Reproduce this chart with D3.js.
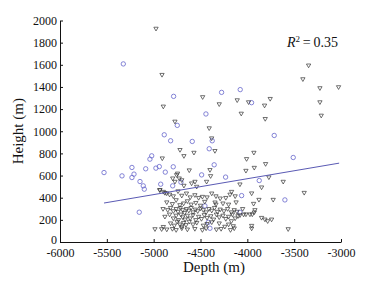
<!DOCTYPE html>
<html>
<head>
<meta charset="utf-8">
<script src="https://cdn.jsdelivr.net/npm/d3@7"></script>
<style>
    body { margin: 0; background: #fff; }
    text { font-family: "Liberation Serif", "Times New Roman", serif; fill: #111; }
</style>
</head>
<body>
<svg id="chart"></svg>
<script>
// Axis ticks
const xTicks = [-6000, -5500, -5000, -4500, -4000, -3500, -3000];
const yTicks = [0, 200, 400, 600, 800, 1000, 1200, 1400, 1600, 1800, 2000];

// Circle samples [depth, height]
const circlePoints = [
    [-5530, 627], [-5324, 1608], [-5338, 597], [-5232, 673], [-5232, 582], [-5210, 613],
    [-5146, 546], [-5111, 507], [-5100, 477], [-5154, 269], [-5085, 661], [-5040, 748],
    [-5021, 778], [-4976, 667], [-4940, 681], [-4925, 522], [-4887, 968], [-4876, 631],
    [-4819, 914], [-4797, 507], [-4791, 679], [-4787, 1315], [-4748, 1053], [-4709, 540],
    [-4588, 908], [-4488, 606], [-4453, 326], [-4442, 1156], [-4417, 178], [-4407, 842],
    [-4399, 124], [-4375, 914], [-4354, 697], [-4275, 1351], [-4232, 586], [-4079, 269],
    [-4076, 1376], [-4061, 419], [-3955, 1258], [-3873, 555], [-3713, 962], [-3599, 380],
    [-3510, 763]
];

// Triangle samples [depth, height]
const trianglePoints = [
    // scattered upper points
    [-4975, 1928], [-4911, 1511], [-4897, 1225], [-4773, 1089], [-4477, 1310], [-4407, 1029],
    [-4300, 1246], [-4108, 1282], [-3987, 1264], [-3816, 1234], [-3756, 1294], [-4065, 1161],
    [-3809, 1113], [-3346, 1596], [-3407, 1472], [-3225, 1391], [-3026, 1400], [-3225, 1264],
    [-3211, 1143], [-4381, 938], [-4719, 833], [-4570, 808], [-4677, 778], [-4908, 757],
    [-4346, 824], [-4008, 751], [-3930, 808], [-3805, 706], [-3926, 672], [-4620, 649],
    [-4399, 652], [-4015, 645], [-4392, 597], [-3770, 586], [-3617, 546], [-4595, 531],
    [-4541, 501], [-4435, 546], [-4559, 546], [-3848, 495], [-4168, 455], [-3393, 446],
    [-3954, 441], [-3876, 383], [-3724, 383], [-3933, 347], [-3919, 290], [-3926, 269],
    [-3972, 251], [-3947, 251], [-4015, 251], [-3848, 220], [-3812, 205], [-3783, 190],
    [-3741, 205], [-3954, 148], [-3954, 124], [-3564, 118], [-4079, 522], [-4079, 243],
    [-4040, 250],
    [-4755, 606], [-4727, 576], [-4797, 576], [-4773, 546], [-4745, 620], [-4700, 560],
    [-4677, 510], [-4933, 471], [-4897, 455], [-4861, 441],
    // dense band
    [-4935, 470], [-4880, 445], [-4830, 430], [-4790, 415], [-4740, 460], [-4700, 420],
    [-4650, 440], [-4610, 405], [-4560, 425], [-4520, 400], [-4480, 410], [-4430, 405],
    [-4380, 440], [-4335, 415], [-4290, 395], [-4230, 400], [-4185, 430], [-4130, 415],
    [-4860, 360], [-4800, 345], [-4760, 380], [-4720, 335], [-4680, 350], [-4640, 370],
    [-4600, 340], [-4550, 355], [-4500, 330], [-4455, 365], [-4345, 359], [-4335, 341],
    [-4260, 350], [-4200, 340], [-4120, 360],
    [-4900, 300], [-4850, 290], [-4820, 310], [-4790, 280], [-4760, 300], [-4740, 275],
    [-4715, 310], [-4690, 290], [-4670, 265], [-4650, 300], [-4625, 285], [-4600, 310],
    [-4580, 270], [-4555, 295], [-4530, 280], [-4500, 305], [-4470, 290], [-4440, 270],
    [-4410, 300], [-4380, 285], [-4350, 310], [-4320, 275], [-4290, 295], [-4250, 280],
    [-4210, 300], [-4170, 270], [-4140, 290], [-4110, 275], [-4050, 300],
    [-4880, 230], [-4830, 250], [-4790, 215], [-4760, 240], [-4735, 200], [-4710, 250],
    [-4690, 225], [-4665, 205], [-4640, 240], [-4610, 215], [-4580, 245], [-4550, 200],
    [-4520, 230], [-4490, 210], [-4460, 245], [-4430, 220], [-4390, 235], [-4360, 205],
    [-4330, 250], [-4300, 225], [-4260, 240], [-4230, 210], [-4200, 230], [-4160, 250],
    [-4130, 215], [-4100, 235],
    [-4820, 170], [-4780, 150], [-4750, 185], [-4720, 160], [-4700, 140], [-4680, 175],
    [-4655, 155], [-4620, 185], [-4580, 160], [-4540, 175], [-4470, 150], [-4430, 165],
    [-4380, 180], [-4300, 170], [-4240, 140], [-4200, 160], [-4170, 190], [-4150, 145],
    [-4986, 118], [-4915, 118], [-4897, 138], [-4860, 115], [-4800, 120], [-4760, 110],
    [-4700, 125], [-4640, 115], [-4560, 120], [-4480, 110], [-4440, 125], [-4330, 115],
    [-4280, 120], [-4180, 110], [-4140, 125]
];

// Fitted trend line end points
const trendDepth = [-5530, -3020];
const trendHeight = [352, 712];
const rSquared = "0.35";

const width = 377, height = 282;
const svg = d3.select('#chart').attr('width', width).attr('height', height);

const x = d3.scaleLinear().domain([-6000, -3000]).range([60, 341]);
const y = d3.scaleLinear().domain([0, 2000]).range([242, 20.5]);

// Axes (inward ticks, no box)
const xAxis = svg.append('g')
    .attr('transform', `translate(0,${y(0)})`)
    .call(d3.axisBottom(x).tickValues(xTicks).tickFormat(d => String(d))
        .tickSizeInner(-3).tickSizeOuter(0).tickPadding(6));
const yAxis = svg.append('g')
    .attr('transform', `translate(${x(-6000)},0)`)
    .call(d3.axisLeft(y).tickValues(yTicks).tickFormat(d => String(d))
        .tickSizeInner(-3).tickSizeOuter(0).tickPadding(3));

[xAxis, yAxis].forEach(g => {
    g.selectAll('path, line').attr('stroke', '#111').attr('stroke-width', 1);
    g.selectAll('text').attr('font-size', 12)
        .attr('font-family', '"Liberation Serif", "Times New Roman", serif')
        .attr('fill', '#111');
});
// the "0" label sits a little higher, as in the original
yAxis.selectAll('.tick text').filter(d => d === 0).attr('dy', '0.1em');

// Axis titles
svg.append('text')
    .attr('x', 214).attr('y', 272)
    .attr('text-anchor', 'middle').attr('font-size', 15)
    .text('Depth (m)');
svg.append('text')
    .attr('transform', `translate(23,${(y(0) + y(2000)) / 2}) rotate(-90)`)
    .attr('text-anchor', 'middle').attr('font-size', 15)
    .text('Height (m)');

// Circles
svg.append('g').selectAll('circle')
    .data(circlePoints)
    .enter().append('circle')
    .attr('cx', d => x(d[0]))
    .attr('cy', d => y(d[1]))
    .attr('r', 2.2)
    .attr('fill', 'none')
    .attr('stroke', '#6666cc')
    .attr('stroke-width', 0.8);

// Inverted triangles
const tri = d3.symbol().type(d3.symbolTriangle).size(8);
svg.append('g').selectAll('path')
    .data(trianglePoints)
    .enter().append('path')
    .attr('d', tri)
    .attr('transform', d => `translate(${x(d[0])},${y(d[1])}) rotate(180)`)
    .attr('fill', 'none')
    .attr('stroke', '#333')
    .attr('stroke-width', 0.7);

// Trend line
svg.append('line')
    .attr('x1', x(trendDepth[0])).attr('y1', y(trendHeight[0]))
    .attr('x2', x(trendDepth[1])).attr('y2', y(trendHeight[1]))
    .attr('stroke', '#5a5ab4')
    .attr('stroke-width', 1);

// R squared annotation
const rText = svg.append('text')
    .attr('x', 338).attr('y', 47)
    .attr('text-anchor', 'end').attr('font-size', 14);
rText.append('tspan').attr('font-style', 'italic').text('R');
rText.append('tspan').attr('font-size', 9).attr('dy', -5).text('2');
rText.append('tspan').attr('dy', 5).text('\u2009=\u20090.' + rSquared.split('.')[1]);
</script>
</body>
</html>
